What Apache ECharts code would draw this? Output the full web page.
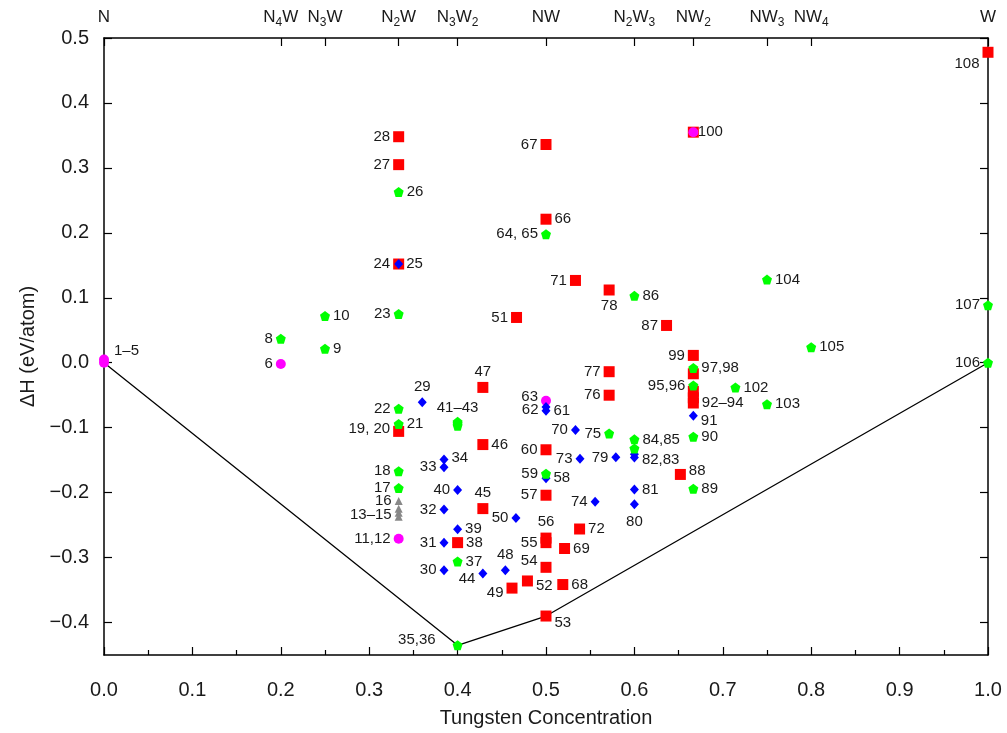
<!DOCTYPE html>
<html>
<head>
<meta charset="utf-8">
<script src="https://cdn.jsdelivr.net/npm/echarts@6/dist/echarts.min.js"></script>
<style>
  html, body { margin: 0; padding: 0; background: #fff; }
  #chart { width: 1007px; height: 733px; }
</style>
</head>
<body>
<div id="chart"></div>
<script>
// Formation enthalpy of N–W structures versus tungsten concentration.
// Each entry: [W concentration, ΔH (eV/atom), structure label]

const redSquares = [
  [1/3, 0.348, '28'], [1/3, 0.305, '27'], [1/3, 0.152, '24'], [1/3, -0.1057, '19, 20'],
  [3/7, -0.038, '47'], [3/7, -0.126, '46'], [3/7, -0.2246, '45'], [0.4, -0.277, '38'],
  [7/15, 0.0697, '51'], [0.5, 0.336, '67'], [0.5, 0.221, '66'], [8/15, 0.1267, '71'],
  [4/7, 0.112, '78'], [7/11, 0.0574, '87'], [0.5, -0.134, '60'], [0.5, -0.204, '57'],
  [0.5, -0.270, '56'], [0.5, -0.277, '55'], [0.521, -0.286, '69'], [0.5, -0.315, '54'],
  [0.479, -0.336, '52'], [0.519, -0.3415, '68'], [6/13, -0.347, '49'], [0.5, -0.390, '53'],
  [0.538, -0.256, '72'], [0.652, -0.172, '88'], [4/7, -0.0138, '77'], [4/7, -0.050, '76'],
  [2/3, 0.0113, '99'], [2/3, -0.017, ''], [2/3, -0.044, ''], [2/3, -0.062, '92–94'],
  [2/3, -0.054, ''], [2/3, 0.355, '100'], [1, 0.478, '108']
];

const greenPentagons = [
  [0.2, 0.037, '8'], [0.25, 0.0215, '9'], [0.25, 0.072, '10'], [1/3, 0.075, '23'],
  [1/3, 0.263, '26'], [1/3, -0.0708, '22'], [1/3, -0.0944, '21'], [1/3, -0.167, '18'],
  [1/3, -0.193, '17'], [0.4, -0.091, ''], [0.4, -0.094, '41–43'], [0.4, -0.097, ''],
  [0.4, -0.306, '37'], [0.4, -0.435, '35,36'], [0.5, 0.198, '64, 65'], [0.5, -0.171, '59'],
  [0.6, 0.103, '86'], [4/7, -0.109, '75'], [0.6, -0.118, '84,85'], [0.6, -0.132, ''],
  [2/3, -0.008, '97,98'], [2/3, -0.035, '95,96'], [2/3, -0.114, '90'], [2/3, -0.194, '89'],
  [5/7, -0.038, '102'], [0.75, -0.064, '103'], [0.75, 0.128, '104'], [0.8, 0.024, '105'],
  [1, 0.0887, '107'], [1, 0.0, '106']
];

const blueDiamonds = [
  [1/3, 0.152, '25'], [0.36, -0.061, '29'], [5/13, -0.149, '34'], [5/13, -0.161, '33'],
  [5/13, -0.226, '32'], [5/13, -0.277, '31'], [5/13, -0.3195, '30'], [0.4, -0.196, '40'],
  [0.4, -0.2564, '39'], [3/7, -0.3246, '44'], [0.454, -0.3195, '48'], [0.466, -0.239, '50'],
  [0.5, -0.068, '62'], [0.5, -0.074, '61'], [0.5, -0.178, '58'], [8/15, -0.1036, '70'],
  [7/13, -0.148, '73'], [0.579, -0.1457, '79'], [5/9, -0.214, '74'], [0.6, -0.141, ''],
  [0.6, -0.146, '82,83'], [0.6, -0.195, '81'], [0.6, -0.218, '80'], [2/3, -0.0815, '91']
];

const magentaCircles = [
  [0, 0.005, '1–5'], [0, 0.0, ''], [0.2, -0.002, '6'], [1/3, -0.271, '11,12'],
  [0.5, -0.0585, '63'], [2/3, 0.355, '']
];

const grayTriangles = [
  [1/3, -0.213, '16'], [1/3, -0.225, ''], [1/3, -0.231, ''], [1/3, -0.237, '13–15']
];

// Convex hull of the lowest-energy structures
const hullPoints = [[0, 0], [0.4, -0.435], [0.5, -0.390], [1, 0]];

// Axis ticks
const xTickValues = [0, 0.1, 0.2, 0.3, 0.4, 0.5, 0.6, 0.7, 0.8, 0.9, 1.0];
const yTickValues = [-0.4, -0.3, -0.2, -0.1, 0.0, 0.1, 0.2, 0.3, 0.4, 0.5];
const phasePositions = [0, 0.2, 0.25, 1/3, 0.4, 0.5, 0.6, 2/3, 0.75, 0.8, 1];
const phaseNames = ['N', 'N4W', 'N3W', 'N2W', 'N3W2', 'NW', 'N2W3', 'NW2', 'NW3', 'NW4', 'W'];

// Where each point label sits: [side, dx, dy]
const labelPlacement = {
  '1–5': ['right', 2, -9], '6': ['left'], '8': ['left'], '23': ['left'], '28': ['left'],
  '27': ['left'], '24': ['left'], '22': ['left'], '19, 20': ['left', 0, -3], '18': ['left'],
  '17': ['left'], '16': ['left'], '13–15': ['left', 0, -2], '11,12': ['left'],
  '29': ['top'], '41–43': ['top'], '47': ['top'], '45': ['top'], '48': ['top'], '56': ['top'],
  '33': ['left'], '32': ['left'], '31': ['left'], '30': ['left'], '40': ['left'],
  '44': ['left', 0, 5], '49': ['left', 0, 5], '50': ['left'], '54': ['left', 0, -6],
  '55': ['left'], '57': ['left'], '59': ['left'], '60': ['left'], '62': ['left', 0, 3],
  '63': ['left', 0, -4], '64, 65': ['left'], '67': ['left'], '51': ['left'], '71': ['left'],
  '70': ['left'], '73': ['left'], '79': ['left'], '74': ['left'], '75': ['left'],
  '76': ['left'], '77': ['left'], '87': ['left'], '99': ['left'], '95,96': ['left'],
  '78': ['bottom'], '80': ['bottom', 0, 2], '107': ['left'], '106': ['left'],
  '108': ['left', 0, 12], '35,36': ['left', -14, -5], '52': ['right', 0, 5],
  '53': ['right', 0, 7], '88': ['right', 0, -4], '91': ['right', 0, 5],
  '34': ['right', 0, -2], '82,83': ['right', 0, 2], '100': ['right', -4, 0]
};

const FONT = '"Liberation Sans", Arial, Helvetica, sans-serif';

function toItems(points) {
  return points.map(function (p) {
    const item = { value: [p[0], p[1]] };
    if (p[2]) {
      const pl = labelPlacement[p[2]] || ['right'];
      item.label = {
        show: true,
        formatter: p[2],
        position: pl[0],
        distance: 3,
        offset: [pl[1] || 0, pl[2] || 0]
      };
    }
    return item;
  });
}

function markerSeries(name, points, symbol, size, color, z) {
  return {
    name: name,
    type: 'scatter',
    clip: false,
    z: z,
    symbol: symbol,
    symbolSize: size,
    itemStyle: { color: color, opacity: 1 },
    label: { color: '#1a1a1a', fontSize: 15, fontFamily: FONT },
    emphasis: { disabled: true },
    data: toItems(points)
  };
}

function phaseLabel(v) {
  let best = 0;
  for (let i = 0; i < phasePositions.length; i++) {
    if (Math.abs(phasePositions[i] - v) < Math.abs(phasePositions[best] - v)) best = i;
  }
  const name = phaseNames[best];
  // digits become subscripts
  return name.replace(/([A-Z]+)(\d?)/g, function (m, letters, digit) {
    return '{m|' + letters + '}' + (digit ? '{s|' + digit + '}' : '');
  });
}

const pentagon = 'path://M0,-1 L0.951,-0.309 L0.588,0.809 L-0.588,0.809 L-0.951,-0.309 Z';
const axisLine = { show: true, onZero: false, lineStyle: { color: '#000', width: 1.5 } };
const tickStyle = { show: true, inside: true, length: 8, lineStyle: { color: '#000', width: 1.2 } };

const chart = echarts.init(document.getElementById('chart'), null, { renderer: 'canvas' });
chart.setOption({
  backgroundColor: '#fff',
  animation: false,
  grid: { left: 104, right: 19, top: 38, bottom: 77, containLabel: false },
  xAxis: [
    {
      type: 'value', position: 'bottom', min: 0, max: 1, interval: 0.1,
      name: 'Tungsten Concentration', nameLocation: 'middle', nameGap: 53,
      nameTextStyle: { fontSize: 20, color: '#1a1a1a', fontFamily: FONT },
      axisLine: axisLine,
      axisTick: tickStyle,
      minorTick: { show: true, splitNumber: 2, length: 5, lineStyle: { color: '#000', width: 1.2 } },
      splitLine: { show: false },
      axisLabel: {
        fontSize: 20, color: '#1a1a1a', fontFamily: FONT, margin: 25,
        customValues: xTickValues,
        formatter: function (v) { return v.toFixed(1); }
      }
    },
    {
      type: 'value', position: 'top', min: 0, max: 1,
      axisLine: axisLine,
      axisTick: Object.assign({}, tickStyle, { customValues: phasePositions }),
      splitLine: { show: false },
      axisLabel: {
        margin: 9, color: '#1a1a1a', fontFamily: FONT,
        customValues: phasePositions,
        formatter: phaseLabel,
        rich: {
          m: { fontSize: 17, lineHeight: 20, verticalAlign: 'bottom', padding: [0, 0, 3, 0], fontFamily: FONT, color: '#1a1a1a' },
          s: { fontSize: 12, lineHeight: 20, verticalAlign: 'bottom', fontFamily: FONT, color: '#1a1a1a' }
        }
      }
    }
  ],
  yAxis: [
    {
      type: 'value', position: 'left', min: -0.45, max: 0.5,
      name: 'ΔH (eV/atom)', nameLocation: 'middle', nameGap: 62, nameRotate: 90,
      nameTextStyle: { fontSize: 20, color: '#1a1a1a', fontFamily: FONT },
      axisLine: axisLine,
      axisTick: Object.assign({}, tickStyle, { customValues: yTickValues }),
      splitLine: { show: false },
      axisLabel: {
        fontSize: 20, color: '#1a1a1a', fontFamily: FONT, margin: 15,
        customValues: yTickValues,
        formatter: function (v) { return v.toFixed(1).replace('-', '\u2212'); }
      }
    },
    {
      type: 'value', position: 'right', min: -0.45, max: 0.5,
      axisLine: axisLine,
      axisTick: Object.assign({}, tickStyle, { customValues: yTickValues }),
      splitLine: { show: false },
      axisLabel: { show: false }
    }
  ],
  series: [
    {
      name: 'hull', type: 'line', z: 1, symbol: 'none', clip: false,
      lineStyle: { color: '#000', width: 1.3 },
      emphasis: { disabled: true },
      data: hullPoints
    },
    markerSeries('red', redSquares, 'rect', 11, '#ff0000', 2),
    markerSeries('magenta', magentaCircles, 'circle', 10, '#ff00ff', 3),
    markerSeries('gray', grayTriangles, 'triangle', 8, '#888888', 4),
    markerSeries('blue', blueDiamonds, 'diamond', [9, 10], '#0000ff', 5),
    markerSeries('green', greenPentagons, pentagon, 10, '#00ff00', 6)
  ]
});
</script>
</body>
</html>
